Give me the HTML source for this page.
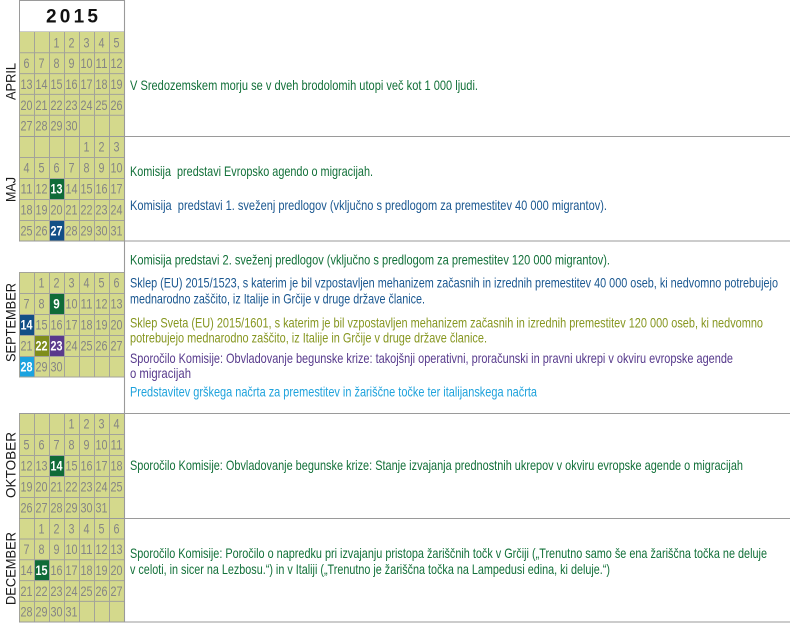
<!DOCTYPE html>
<html><head><meta charset="utf-8"><style>
html,body{margin:0;padding:0;background:#fff;}
svg{display:block;}
.n{font-family:"Liberation Sans",sans-serif;font-size:14px;fill:#858585;text-anchor:middle;}
.w{font-family:"Liberation Sans",sans-serif;font-size:14px;fill:#fff;font-weight:bold;text-anchor:middle;}
.t{font-family:"Liberation Sans",sans-serif;font-size:13.6px;white-space:pre;}
.m{font-family:"Liberation Sans",sans-serif;font-size:14px;fill:#1a1a1a;text-anchor:middle;}
.g{fill:#127039}.b{fill:#1a5790}.o{fill:#869620}.p{fill:#573a8c}.c{fill:#1ea2dc}
.grid{stroke:#a3a39a;stroke-width:1;fill:none;}
</style></head><body>
<svg width="800" height="623" viewBox="0 0 800 623" xmlns="http://www.w3.org/2000/svg">
<rect x="0" y="0" width="800" height="623" fill="#fff"/>

<!-- header -->
<rect x="19.5" y="0.5" width="105" height="31.5" fill="#fff" stroke="#9a9a9a"/>
<text x="46" y="22.5" font-family="Liberation Sans, sans-serif" font-size="19" font-weight="bold" fill="#111" textLength="52" lengthAdjust="spacing">2015</text>

<!-- calendar backgrounds -->
<rect x="19" y="32" width="105" height="104" fill="#d4d98c"/>
<rect x="19" y="136" width="105" height="105" fill="#d4d98c"/>
<rect x="19" y="272" width="105" height="105" fill="#d4d98c"/>
<rect x="19" y="413" width="105" height="105" fill="#d4d98c"/>
<rect x="19" y="518" width="105" height="104" fill="#d4d98c"/>

<!-- highlights -->
<rect x="49" y="178" width="15" height="21" fill="#0f6b38"/>
<rect x="49" y="220" width="15" height="21" fill="#124f86"/>
<rect x="49" y="293" width="15" height="21" fill="#0f6b38"/>
<rect x="19" y="314" width="15" height="21" fill="#124f86"/>
<rect x="34" y="335" width="15" height="21" fill="#7f8d1c"/>
<rect x="49" y="335" width="15" height="21" fill="#5a3a8c"/>
<rect x="19" y="356" width="15" height="21" fill="#1ba3df"/>
<rect x="49" y="455" width="15" height="21" fill="#0f6b38"/>
<rect x="34" y="559.6" width="15" height="20.8" fill="#0f6b38"/>

<!-- grids -->
<path class="grid" d="M19.5 32V136M34.5 32V136M49.5 32V136M64.5 32V136M79.5 32V136M94.5 32V136M109.5 32V136
M19 52.8H124M19 73.6H124M19 94.4H124M19 115.2H124"/>
<path class="grid" d="M19.5 136V241M34.5 136V241M49.5 136V241M64.5 136V241M79.5 136V241M94.5 136V241M109.5 136V241
M19 157.5H124M19 178.5H124M19 199.5H124M19 220.5H124"/>
<path class="grid" d="M19.5 272V377M34.5 272V377M49.5 272V377M64.5 272V377M79.5 272V377M94.5 272V377M109.5 272V377M124.5 272V377
M19 272.5H124M19 293.5H124M19 314.5H124M19 335.5H124M19 356.5H124M19 377H124"/>
<path class="grid" d="M19.5 413V518M34.5 413V518M49.5 413V518M64.5 413V518M79.5 413V518M94.5 413V518M109.5 413V518
M19 434.5H124M19 455.5H124M19 476.5H124M19 497.5H124"/>
<path class="grid" d="M19.5 518V622M34.5 518V622M49.5 518V622M64.5 518V622M79.5 518V622M94.5 518V622M109.5 518V622
M19 539H124M19 559.8H124M19 580.6H124M19 601.4H124"/>

<!-- panel lines -->
<path d="M124.5 0V622.5M19 136.5H790M19 241H790M19 413.5H790M19 518.5H790M19 622H790" stroke="#9a9a9a" stroke-width="1.1" fill="none"/>

<g class="n">
<!-- APRIL -->
<text x="56.5" y="47.4" textLength="6" lengthAdjust="spacingAndGlyphs">1</text><text x="71.5" y="47.4" textLength="6" lengthAdjust="spacingAndGlyphs">2</text><text x="86.5" y="47.4" textLength="6" lengthAdjust="spacingAndGlyphs">3</text><text x="101.5" y="47.4" textLength="6" lengthAdjust="spacingAndGlyphs">4</text><text x="116.5" y="47.4" textLength="6" lengthAdjust="spacingAndGlyphs">5</text>
<text x="26.5" y="68.2" textLength="6" lengthAdjust="spacingAndGlyphs">6</text><text x="41.5" y="68.2" textLength="6" lengthAdjust="spacingAndGlyphs">7</text><text x="56.5" y="68.2" textLength="6" lengthAdjust="spacingAndGlyphs">8</text><text x="71.5" y="68.2" textLength="6" lengthAdjust="spacingAndGlyphs">9</text><text x="86.5" y="68.2" textLength="12" lengthAdjust="spacingAndGlyphs">10</text><text x="101.5" y="68.2" textLength="12" lengthAdjust="spacingAndGlyphs">11</text><text x="116.5" y="68.2" textLength="12" lengthAdjust="spacingAndGlyphs">12</text>
<text x="26.5" y="89" textLength="12" lengthAdjust="spacingAndGlyphs">13</text><text x="41.5" y="89" textLength="12" lengthAdjust="spacingAndGlyphs">14</text><text x="56.5" y="89" textLength="12" lengthAdjust="spacingAndGlyphs">15</text><text x="71.5" y="89" textLength="12" lengthAdjust="spacingAndGlyphs">16</text><text x="86.5" y="89" textLength="12" lengthAdjust="spacingAndGlyphs">17</text><text x="101.5" y="89" textLength="12" lengthAdjust="spacingAndGlyphs">18</text><text x="116.5" y="89" textLength="12" lengthAdjust="spacingAndGlyphs">19</text>
<text x="26.5" y="109.8" textLength="12" lengthAdjust="spacingAndGlyphs">20</text><text x="41.5" y="109.8" textLength="12" lengthAdjust="spacingAndGlyphs">21</text><text x="56.5" y="109.8" textLength="12" lengthAdjust="spacingAndGlyphs">22</text><text x="71.5" y="109.8" textLength="12" lengthAdjust="spacingAndGlyphs">23</text><text x="86.5" y="109.8" textLength="12" lengthAdjust="spacingAndGlyphs">24</text><text x="101.5" y="109.8" textLength="12" lengthAdjust="spacingAndGlyphs">25</text><text x="116.5" y="109.8" textLength="12" lengthAdjust="spacingAndGlyphs">26</text>
<text x="26.5" y="130.6" textLength="12" lengthAdjust="spacingAndGlyphs">27</text><text x="41.5" y="130.6" textLength="12" lengthAdjust="spacingAndGlyphs">28</text><text x="56.5" y="130.6" textLength="12" lengthAdjust="spacingAndGlyphs">29</text><text x="71.5" y="130.6" textLength="12" lengthAdjust="spacingAndGlyphs">30</text>

<!-- MAJ -->
<text x="86.5" y="151.5" textLength="6" lengthAdjust="spacingAndGlyphs">1</text><text x="101.5" y="151.5" textLength="6" lengthAdjust="spacingAndGlyphs">2</text><text x="116.5" y="151.5" textLength="6" lengthAdjust="spacingAndGlyphs">3</text>
<text x="26.5" y="172.5" textLength="6" lengthAdjust="spacingAndGlyphs">4</text><text x="41.5" y="172.5" textLength="6" lengthAdjust="spacingAndGlyphs">5</text><text x="56.5" y="172.5" textLength="6" lengthAdjust="spacingAndGlyphs">6</text><text x="71.5" y="172.5" textLength="6" lengthAdjust="spacingAndGlyphs">7</text><text x="86.5" y="172.5" textLength="6" lengthAdjust="spacingAndGlyphs">8</text><text x="101.5" y="172.5" textLength="6" lengthAdjust="spacingAndGlyphs">9</text><text x="116.5" y="172.5" textLength="12" lengthAdjust="spacingAndGlyphs">10</text>
<text x="26.5" y="193.5" textLength="12" lengthAdjust="spacingAndGlyphs">11</text><text x="41.5" y="193.5" textLength="12" lengthAdjust="spacingAndGlyphs">12</text><text x="71.5" y="193.5" textLength="12" lengthAdjust="spacingAndGlyphs">14</text><text x="86.5" y="193.5" textLength="12" lengthAdjust="spacingAndGlyphs">15</text><text x="101.5" y="193.5" textLength="12" lengthAdjust="spacingAndGlyphs">16</text><text x="116.5" y="193.5" textLength="12" lengthAdjust="spacingAndGlyphs">17</text>
<text x="26.5" y="214.5" textLength="12" lengthAdjust="spacingAndGlyphs">18</text><text x="41.5" y="214.5" textLength="12" lengthAdjust="spacingAndGlyphs">19</text><text x="56.5" y="214.5" textLength="12" lengthAdjust="spacingAndGlyphs">20</text><text x="71.5" y="214.5" textLength="12" lengthAdjust="spacingAndGlyphs">21</text><text x="86.5" y="214.5" textLength="12" lengthAdjust="spacingAndGlyphs">22</text><text x="101.5" y="214.5" textLength="12" lengthAdjust="spacingAndGlyphs">23</text><text x="116.5" y="214.5" textLength="12" lengthAdjust="spacingAndGlyphs">24</text>
<text x="26.5" y="235.5" textLength="12" lengthAdjust="spacingAndGlyphs">25</text><text x="41.5" y="235.5" textLength="12" lengthAdjust="spacingAndGlyphs">26</text><text x="71.5" y="235.5" textLength="12" lengthAdjust="spacingAndGlyphs">28</text><text x="86.5" y="235.5" textLength="12" lengthAdjust="spacingAndGlyphs">29</text><text x="101.5" y="235.5" textLength="12" lengthAdjust="spacingAndGlyphs">30</text><text x="116.5" y="235.5" textLength="12" lengthAdjust="spacingAndGlyphs">31</text>

<!-- SEPTEMBER -->
<text x="41.5" y="287.5" textLength="6" lengthAdjust="spacingAndGlyphs">1</text><text x="56.5" y="287.5" textLength="6" lengthAdjust="spacingAndGlyphs">2</text><text x="71.5" y="287.5" textLength="6" lengthAdjust="spacingAndGlyphs">3</text><text x="86.5" y="287.5" textLength="6" lengthAdjust="spacingAndGlyphs">4</text><text x="101.5" y="287.5" textLength="6" lengthAdjust="spacingAndGlyphs">5</text><text x="116.5" y="287.5" textLength="6" lengthAdjust="spacingAndGlyphs">6</text>
<text x="26.5" y="308.5" textLength="6" lengthAdjust="spacingAndGlyphs">7</text><text x="41.5" y="308.5" textLength="6" lengthAdjust="spacingAndGlyphs">8</text><text x="71.5" y="308.5" textLength="12" lengthAdjust="spacingAndGlyphs">10</text><text x="86.5" y="308.5" textLength="12" lengthAdjust="spacingAndGlyphs">11</text><text x="101.5" y="308.5" textLength="12" lengthAdjust="spacingAndGlyphs">12</text><text x="116.5" y="308.5" textLength="12" lengthAdjust="spacingAndGlyphs">13</text>
<text x="41.5" y="329.5" textLength="12" lengthAdjust="spacingAndGlyphs">15</text><text x="56.5" y="329.5" textLength="12" lengthAdjust="spacingAndGlyphs">16</text><text x="71.5" y="329.5" textLength="12" lengthAdjust="spacingAndGlyphs">17</text><text x="86.5" y="329.5" textLength="12" lengthAdjust="spacingAndGlyphs">18</text><text x="101.5" y="329.5" textLength="12" lengthAdjust="spacingAndGlyphs">19</text><text x="116.5" y="329.5" textLength="12" lengthAdjust="spacingAndGlyphs">20</text>
<text x="26.5" y="350.5" textLength="12" lengthAdjust="spacingAndGlyphs">21</text><text x="71.5" y="350.5" textLength="12" lengthAdjust="spacingAndGlyphs">24</text><text x="86.5" y="350.5" textLength="12" lengthAdjust="spacingAndGlyphs">25</text><text x="101.5" y="350.5" textLength="12" lengthAdjust="spacingAndGlyphs">26</text><text x="116.5" y="350.5" textLength="12" lengthAdjust="spacingAndGlyphs">27</text>
<text x="41.5" y="371.5" textLength="12" lengthAdjust="spacingAndGlyphs">29</text><text x="56.5" y="371.5" textLength="12" lengthAdjust="spacingAndGlyphs">30</text>

<!-- OKTOBER -->
<text x="71.5" y="428.5" textLength="6" lengthAdjust="spacingAndGlyphs">1</text><text x="86.5" y="428.5" textLength="6" lengthAdjust="spacingAndGlyphs">2</text><text x="101.5" y="428.5" textLength="6" lengthAdjust="spacingAndGlyphs">3</text><text x="116.5" y="428.5" textLength="6" lengthAdjust="spacingAndGlyphs">4</text>
<text x="26.5" y="449.5" textLength="6" lengthAdjust="spacingAndGlyphs">5</text><text x="41.5" y="449.5" textLength="6" lengthAdjust="spacingAndGlyphs">6</text><text x="56.5" y="449.5" textLength="6" lengthAdjust="spacingAndGlyphs">7</text><text x="71.5" y="449.5" textLength="6" lengthAdjust="spacingAndGlyphs">8</text><text x="86.5" y="449.5" textLength="6" lengthAdjust="spacingAndGlyphs">9</text><text x="101.5" y="449.5" textLength="12" lengthAdjust="spacingAndGlyphs">10</text><text x="116.5" y="449.5" textLength="12" lengthAdjust="spacingAndGlyphs">11</text>
<text x="26.5" y="470.5" textLength="12" lengthAdjust="spacingAndGlyphs">12</text><text x="41.5" y="470.5" textLength="12" lengthAdjust="spacingAndGlyphs">13</text><text x="71.5" y="470.5" textLength="12" lengthAdjust="spacingAndGlyphs">15</text><text x="86.5" y="470.5" textLength="12" lengthAdjust="spacingAndGlyphs">16</text><text x="101.5" y="470.5" textLength="12" lengthAdjust="spacingAndGlyphs">17</text><text x="116.5" y="470.5" textLength="12" lengthAdjust="spacingAndGlyphs">18</text>
<text x="26.5" y="491.5" textLength="12" lengthAdjust="spacingAndGlyphs">19</text><text x="41.5" y="491.5" textLength="12" lengthAdjust="spacingAndGlyphs">20</text><text x="56.5" y="491.5" textLength="12" lengthAdjust="spacingAndGlyphs">21</text><text x="71.5" y="491.5" textLength="12" lengthAdjust="spacingAndGlyphs">22</text><text x="86.5" y="491.5" textLength="12" lengthAdjust="spacingAndGlyphs">23</text><text x="101.5" y="491.5" textLength="12" lengthAdjust="spacingAndGlyphs">24</text><text x="116.5" y="491.5" textLength="12" lengthAdjust="spacingAndGlyphs">25</text>
<text x="26.5" y="512.5" textLength="12" lengthAdjust="spacingAndGlyphs">26</text><text x="41.5" y="512.5" textLength="12" lengthAdjust="spacingAndGlyphs">27</text><text x="56.5" y="512.5" textLength="12" lengthAdjust="spacingAndGlyphs">28</text><text x="71.5" y="512.5" textLength="12" lengthAdjust="spacingAndGlyphs">29</text><text x="86.5" y="512.5" textLength="12" lengthAdjust="spacingAndGlyphs">30</text><text x="101.5" y="512.5" textLength="12" lengthAdjust="spacingAndGlyphs">31</text>

<!-- DECEMBER -->
<text x="41.5" y="533.4" textLength="6" lengthAdjust="spacingAndGlyphs">1</text><text x="56.5" y="533.4" textLength="6" lengthAdjust="spacingAndGlyphs">2</text><text x="71.5" y="533.4" textLength="6" lengthAdjust="spacingAndGlyphs">3</text><text x="86.5" y="533.4" textLength="6" lengthAdjust="spacingAndGlyphs">4</text><text x="101.5" y="533.4" textLength="6" lengthAdjust="spacingAndGlyphs">5</text><text x="116.5" y="533.4" textLength="6" lengthAdjust="spacingAndGlyphs">6</text>
<text x="26.5" y="554.2" textLength="6" lengthAdjust="spacingAndGlyphs">7</text><text x="41.5" y="554.2" textLength="6" lengthAdjust="spacingAndGlyphs">8</text><text x="56.5" y="554.2" textLength="6" lengthAdjust="spacingAndGlyphs">9</text><text x="71.5" y="554.2" textLength="12" lengthAdjust="spacingAndGlyphs">10</text><text x="86.5" y="554.2" textLength="12" lengthAdjust="spacingAndGlyphs">11</text><text x="101.5" y="554.2" textLength="12" lengthAdjust="spacingAndGlyphs">12</text><text x="116.5" y="554.2" textLength="12" lengthAdjust="spacingAndGlyphs">13</text>
<text x="26.5" y="575" textLength="12" lengthAdjust="spacingAndGlyphs">14</text><text x="56.5" y="575" textLength="12" lengthAdjust="spacingAndGlyphs">16</text><text x="71.5" y="575" textLength="12" lengthAdjust="spacingAndGlyphs">17</text><text x="86.5" y="575" textLength="12" lengthAdjust="spacingAndGlyphs">18</text><text x="101.5" y="575" textLength="12" lengthAdjust="spacingAndGlyphs">19</text><text x="116.5" y="575" textLength="12" lengthAdjust="spacingAndGlyphs">20</text>
<text x="26.5" y="595.8" textLength="12" lengthAdjust="spacingAndGlyphs">21</text><text x="41.5" y="595.8" textLength="12" lengthAdjust="spacingAndGlyphs">22</text><text x="56.5" y="595.8" textLength="12" lengthAdjust="spacingAndGlyphs">23</text><text x="71.5" y="595.8" textLength="12" lengthAdjust="spacingAndGlyphs">24</text><text x="86.5" y="595.8" textLength="12" lengthAdjust="spacingAndGlyphs">25</text><text x="101.5" y="595.8" textLength="12" lengthAdjust="spacingAndGlyphs">26</text><text x="116.5" y="595.8" textLength="12" lengthAdjust="spacingAndGlyphs">27</text>
<text x="26.5" y="616.6" textLength="12" lengthAdjust="spacingAndGlyphs">28</text><text x="41.5" y="616.6" textLength="12" lengthAdjust="spacingAndGlyphs">29</text><text x="56.5" y="616.6" textLength="12" lengthAdjust="spacingAndGlyphs">30</text><text x="71.5" y="616.6" textLength="12" lengthAdjust="spacingAndGlyphs">31</text>
</g>

<!-- highlighted numbers -->
<g class="w">
<text x="56.5" y="193.5" textLength="12" lengthAdjust="spacingAndGlyphs">13</text>
<text x="56.5" y="235.5" textLength="12" lengthAdjust="spacingAndGlyphs">27</text>
<text x="56.5" y="308.5" textLength="6.5" lengthAdjust="spacingAndGlyphs">9</text>
<text x="26.5" y="329.5" textLength="12" lengthAdjust="spacingAndGlyphs">14</text>
<text x="41.5" y="350.5" textLength="12" lengthAdjust="spacingAndGlyphs">22</text>
<text x="56.5" y="350.5" textLength="12" lengthAdjust="spacingAndGlyphs">23</text>
<text x="26.5" y="371.5" textLength="12" lengthAdjust="spacingAndGlyphs">28</text>
<text x="56.5" y="470.5" textLength="12" lengthAdjust="spacingAndGlyphs">14</text>
<text x="41.5" y="575" textLength="12" lengthAdjust="spacingAndGlyphs">15</text>
</g>

<!-- month labels -->
<text class="m" transform="translate(15.5,81.5) rotate(-90)" textLength="37" lengthAdjust="spacingAndGlyphs">APRIL</text>
<text class="m" transform="translate(15.5,189.5) rotate(-90)" textLength="25" lengthAdjust="spacingAndGlyphs">MAJ</text>
<text class="m" transform="translate(15.5,322.5) rotate(-90)" textLength="79" lengthAdjust="spacingAndGlyphs">SEPTEMBER</text>
<text class="m" transform="translate(15.5,465) rotate(-90)" textLength="66" lengthAdjust="spacingAndGlyphs">OKTOBER</text>
<text class="m" transform="translate(15.5,568.5) rotate(-90)" textLength="73" lengthAdjust="spacingAndGlyphs">DECEMBER</text>

<!-- right panel texts -->
<text class="t g" x="130" y="90" textLength="348" lengthAdjust="spacingAndGlyphs">V Sredozemskem morju se v dveh brodolomih utopi več kot 1 000 ljudi.</text>
<text class="t g" x="130" y="176" textLength="243" lengthAdjust="spacingAndGlyphs">Komisija  predstavi Evropsko agendo o migracijah.</text>
<text class="t b" x="130" y="210" textLength="477" lengthAdjust="spacingAndGlyphs">Komisija  predstavi 1. sveženj predlogov (vključno s predlogom za premestitev 40 000 migrantov).</text>
<text class="t g" x="130" y="264.5" textLength="480" lengthAdjust="spacingAndGlyphs">Komisija predstavi 2. sveženj predlogov (vključno s predlogom za premestitev 120 000 migrantov).</text>
<text class="t b" x="130" y="287.5" textLength="648" lengthAdjust="spacingAndGlyphs">Sklep (EU) 2015/1523, s katerim je bil vzpostavljen mehanizem začasnih in izrednih premestitev 40 000 oseb, ki nedvomno potrebujejo</text>
<text class="t b" x="130" y="303.5" textLength="295" lengthAdjust="spacingAndGlyphs">mednarodno zaščito, iz Italije in Grčije v druge države članice.</text>
<text class="t o" x="130" y="327.5" textLength="633" lengthAdjust="spacingAndGlyphs">Sklep Sveta (EU) 2015/1601, s katerim je bil vzpostavljen mehanizem začasnih in izrednih premestitev 120 000 oseb, ki nedvomno</text>
<text class="t o" x="130" y="342.5" textLength="357" lengthAdjust="spacingAndGlyphs">potrebujejo mednarodno zaščito, iz Italije in Grčije v druge države članice.</text>
<text class="t p" x="130" y="363" textLength="603" lengthAdjust="spacingAndGlyphs">Sporočilo Komisije: Obvladovanje begunske krize: takojšnji operativni, proračunski in pravni ukrepi v okviru evropske agende</text>
<text class="t p" x="130" y="378" textLength="61" lengthAdjust="spacingAndGlyphs">o migracijah</text>
<text class="t c" x="130" y="396.5" textLength="407" lengthAdjust="spacingAndGlyphs">Predstavitev grškega načrta za premestitev in žariščne točke ter italijanskega načrta</text>
<text class="t g" x="130" y="470" textLength="613" lengthAdjust="spacingAndGlyphs">Sporočilo Komisije: Obvladovanje begunske krize: Stanje izvajanja prednostnih ukrepov v okviru evropske agende o migracijah</text>
<text class="t g" x="130" y="558" textLength="637" lengthAdjust="spacingAndGlyphs">Sporočilo Komisije: Poročilo o napredku pri izvajanju pristopa žariščnih točk v Grčiji („Trenutno samo še ena žariščna točka ne deluje</text>
<text class="t g" x="130" y="574" textLength="480" lengthAdjust="spacingAndGlyphs">v celoti, in sicer na Lezbosu.“) in v Italiji („Trenutno je žariščna točka na Lampedusi edina, ki deluje.“)</text>
</svg>
</body></html>
